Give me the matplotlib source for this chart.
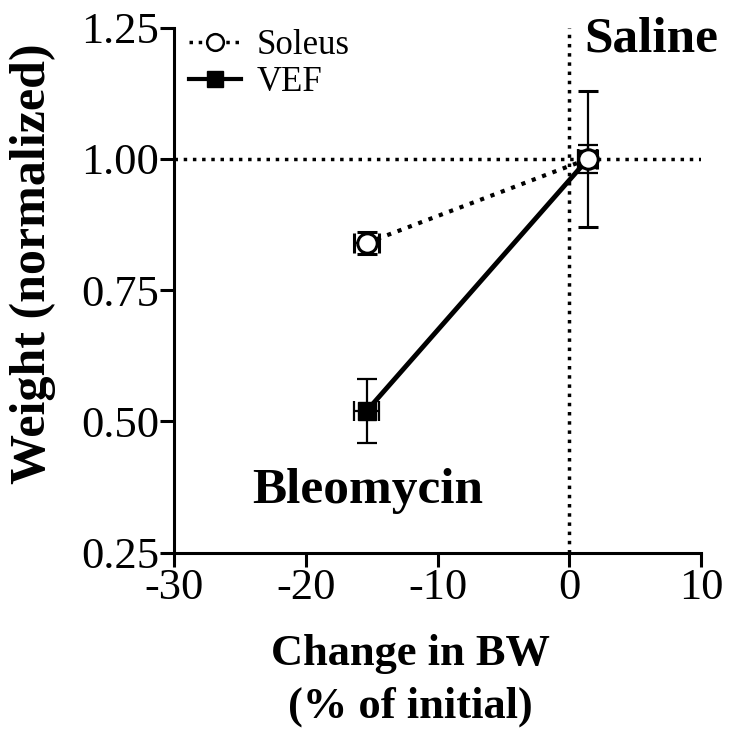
import matplotlib
matplotlib.use('Agg')
import matplotlib.pyplot as plt
from matplotlib.lines import Line2D

# values: [bleomycin, saline]
soleus_x = [-15.4, 1.4]
soleus_y = [0.84, 1.00]
soleus_xerr = [0.95, 0.72]
soleus_yerr = [0.021, 0.13]

vef_x = [-15.4, 1.4]
vef_y = [0.52, 1.00]
vef_xerr = [0.95, 0.72]
vef_yerr = [0.06, 0.027]

xticks = [-30, -20, -10, 0, 10]
yticks = [0.25, 0.50, 0.75, 1.00, 1.25]

plt.rcParams['font.family'] = ['Liberation Serif', 'DejaVu Serif']
plt.rcParams['axes.unicode_minus'] = False

fig = plt.figure(figsize=(7.32, 7.49), dpi=100)
ax = fig.add_axes([0.238, 0.262, 0.72, 0.701])

ax.axvline(0, color='black', ls=':', lw=2.5, zorder=1)
ax.axhline(1.0, color='black', ls=':', lw=2.5, zorder=1)

ax.errorbar(soleus_x, soleus_y, xerr=soleus_xerr, yerr=soleus_yerr,
            color='black', ls=':', lw=3, marker='o', ms=14, mfc='white',
            mec='black', mew=2.2, elinewidth=1.6, capsize=7, capthick=1.6,
            zorder=3)
ax.errorbar(vef_x, vef_y, xerr=vef_xerr, yerr=vef_yerr,
            color='black', ls='-', lw=3.5, marker='s', ms=12.5, mfc='black',
            mec='black', elinewidth=1.6, capsize=7, capthick=1.6, zorder=2)

ax.set_xlim(-30, 10)
ax.set_ylim(0.25, 1.25)
ax.set_xticks(xticks)
ax.set_yticks(yticks)
ax.set_yticklabels(['%.2f' % v for v in yticks])
ax.tick_params(direction='out', length=10, width=2.2, labelsize=32, pad=1)
for s in ['top', 'right']:
    ax.spines[s].set_visible(False)
for s in ['left', 'bottom']:
    ax.spines[s].set_linewidth(2.2)

ax.set_xlabel('Change in BW\n(% of initial)', fontsize=32, fontweight='bold',
              linespacing=1.4, va='top')
ax.xaxis.set_label_coords(0.449, -0.155)
ax.set_ylabel('Weight (normalized)', fontsize=36, fontweight='bold')
ax.yaxis.set_label_coords(-0.225, 0.55)

ax.text(1.032, 1.022, 'Saline', transform=ax.transAxes, ha='right', va='top',
        fontsize=37, fontweight='bold')
ax.text(0.148, 0.095, 'Bleomycin', transform=ax.transAxes, ha='left',
        va='baseline', fontsize=37, fontweight='bold')

handles = [
    Line2D([], [], color='black', ls=':', lw=2.5, marker='o', ms=12,
           mfc='white', mec='black', mew=1.8),
    Line2D([], [], color='black', ls='-', lw=3, marker='s', ms=11,
           mfc='black', mec='black'),
]
ax.legend(handles, ['Soleus', 'VEF'], loc='upper left',
          bbox_to_anchor=(0.028, 0.997), frameon=False, fontsize=25,
          handlelength=1.5, handletextpad=0.45, labelspacing=0.1,
          borderpad=0, borderaxespad=0)

fig.savefig('out.png', dpi=100)
